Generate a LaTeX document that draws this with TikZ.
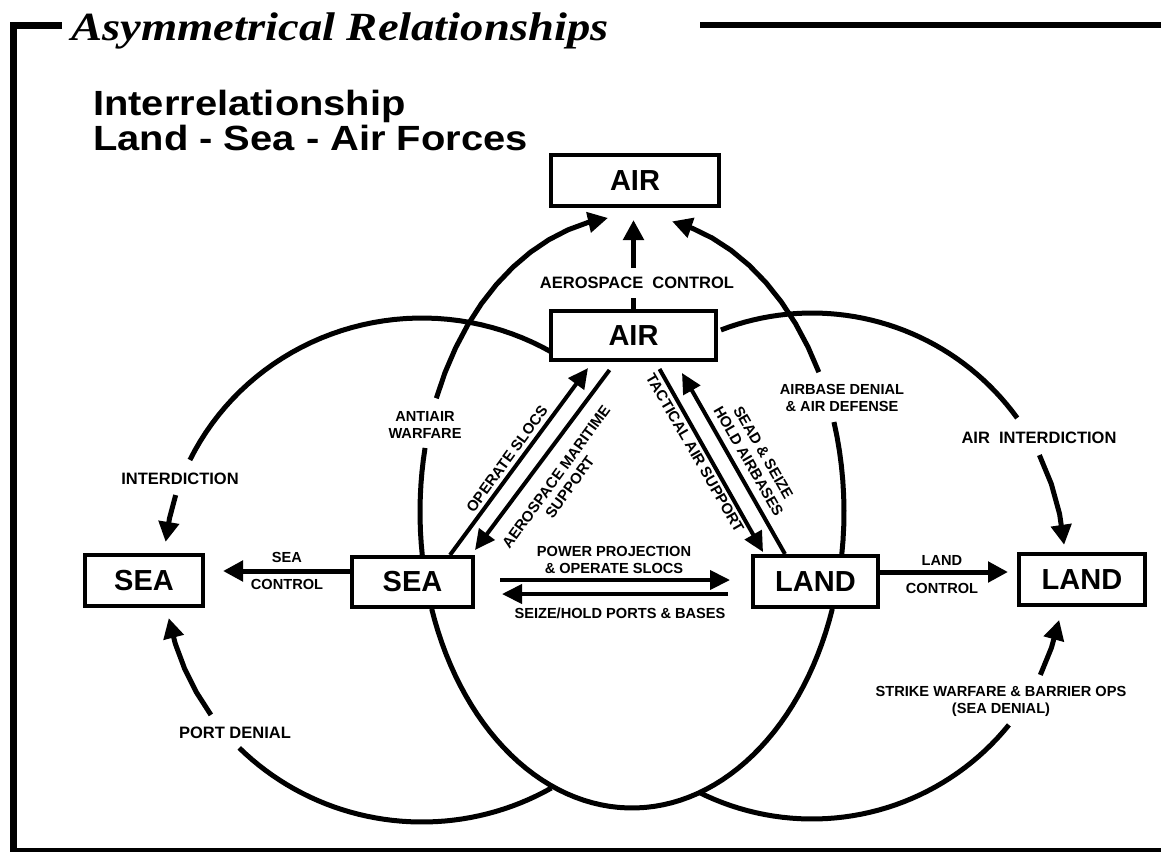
\documentclass[tikz,border=0pt]{standalone}
\usepackage{fontspec}
\setmainfont{Liberation Sans}
\newfontfamily\titlefont{Liberation Serif}
\usetikzlibrary{arrows.meta, positioning, calc}

\begin{document}
\begin{tikzpicture}[x=1pt, y=-1pt,
  force/.style={draw, line width=4pt, inner sep=0pt, minimum height=51pt, font=\fontsize{29}{29}\selectfont\bfseries},
  lbl/.style={align=center, inner sep=1pt, font=\fontsize{14.6}{17}\selectfont\bfseries},
  slant/.style={align=center, inner sep=1pt, font=\fontsize{15}{17}\selectfont\bfseries},
  biglbl/.style={align=center, inner sep=1pt, font=\fontsize{16.5}{19}\selectfont\bfseries},
  heading/.style={anchor=base west, inner sep=0pt, font=\fontsize{35}{35}\selectfont\bfseries},
  ring/.style={line width=5pt},
  arr/.style={line width=5pt, -{Triangle[length=20pt, width=20pt]}},
  rarr/.style={line width=5pt, {Triangle[length=20pt, width=20pt]}-},
  link/.style={line width=4pt, -{Triangle[length=20pt, width=19pt]}},
]
  \useasboundingbox (0,0) rectangle (1161,852);

  % Frame and titles
  \draw[line width=7pt] (62,25) -- (13.5,25) -- (13.5,852);
  \draw[line width=6pt] (700,25) -- (1161,25);
  \draw[line width=4pt] (10,850) -- (1161,850);
  \node[anchor=base west, inner sep=0pt, font=\titlefont\fontsize{40}{40}\selectfont\bfseries\itshape] (title) at (71,40) {\scalebox{1.165}[1]{Asymmetrical Relationships}};
  \node[heading] (heading1) at (93,115) {\scalebox{1.14}[1]{Interrelationship}};
  \node[heading] (heading2) at ($(heading1.base west)+(0,35)$) {\scalebox{1.14}[1]{Land - Sea - Air Forces}};

  % Forces
  \node[force, minimum width=168pt] (airtop) at (635,180.5) {AIR};
  \node[force, minimum width=165pt, minimum height=49pt] (airmid) at (633.5,335.5) {AIR};
  \node[force, minimum width=118pt] (seaout) at (144,580.5) {SEA};
  \node[force, minimum width=121pt, minimum height=50pt] (seamid) at (412.5,582) {SEA};
  \node[force, minimum width=125pt] (landmid) at (815.5,581.5) {LAND};
  \node[force, minimum width=126pt] (landout) at (1082,579.5) {LAND};

  % Aerospace control
  \node[biglbl, inner ysep=9pt] (aerolbl) at (637,283) {AEROSPACE\ \ CONTROL};
  \draw[ring] (airmid.north) -- (airmid.north |- aerolbl.south);
  \draw[arr] (airmid.north |- aerolbl.north) -- ($(airmid.north |- airtop.south)+(0,12)$);

  % Sea and land control
  \draw[arr] ($(seamid.west)+(0,-11)$) -- ($(seaout.east)+(18,-9.5)$);
  \node[lbl] (seactl1) at (287,557) {SEA};
  \node[lbl] (seactl2) at (287,584) {CONTROL};
  \draw[arr] ($(landmid.east)+(0,-9.5)$) -- ($(landout.west)+(-9,-7.5)$);
  \node[lbl] (landctl1) at (942,560) {LAND};
  \node[lbl] (landctl2) at (942,588) {CONTROL};

  % Triangle links
  \draw[link] ($(seamid.east)+(25,-2)$) -- ($(landmid.west)+(-21,-1.5)$);
  \draw[link] ($(landmid.west)+(-23,12.5)$) -- ($(seamid.east)+(27,12)$);
  \draw[link] ($(seamid.north east)+(-25,0)$) -- ($(airmid.south west)+(39,6)$);
  \draw[link] ($(airmid.south)+(-24,8)$) -- ($(seamid.north east)+(0,-5)$);
  \draw[link] ($(airmid.south)+(26,7)$) -- ($(landmid.north west)+(12,-2)$);
  \draw[link] ($(landmid.north west)+(34,0)$) -- ($(airmid.south)+(48.5,11)$);
  \node[lbl] (powerproj) at (614,560) {POWER PROJECTION\\\& OPERATE SLOCS};
  \node[lbl] (seize) at (620,613) {SEIZE/HOLD PORTS \& BASES};
  \node[slant, rotate=54] (opslocs) at (507,459) {OPERATE SLOCS};
  \node[slant, rotate=54] (maritime) at (563,482) {AEROSPACE MARITIME\\SUPPORT};
  \node[slant, rotate=-60] (tacair) at (695,453) {TACTICAL AIR SUPPORT};
  \node[slant, rotate=-60] (sead) at (756,457) {SEAD \& SEIZE\\HOLD AIRBASES};

  % Ring labels
  \node[lbl] (antiair) at (425,425) {ANTIAIR\\WARFARE};
  \node[lbl] (airbase) at (842,398) {AIRBASE DENIAL\\\& AIR DEFENSE};
  \node[biglbl] (interd) at (180,479) {INTERDICTION};
  \node[biglbl] (airinterd) at (1039,438) {AIR\ \ INTERDICTION};
  \node[biglbl] (portden) at (235,733) {PORT DENIAL};
  \node[lbl] (strike) at (1001,701) {STRIKE WARFARE \& BARRIER OPS\\(SEA DENIAL)};

  % Air ring
  \draw[ring] plot[domain=19.1:160.9, samples=60] ({632+212*cos(\x)}, {512+296*sin(\x)});
  \draw[ring] plot[domain=171.5:192.5, samples=10] ({632+212*cos(\x)}, {512+296*sin(\x)});
  \draw[arr] plot[domain=202.6:263.5, samples=12] ({632+212*cos(\x)}, {512+296*sin(\x)});
  \draw[ring] plot[domain=-17.7:8.5, samples=10] ({632+212*cos(\x)}, {512+296*sin(\x)});
  \draw[rarr] plot[domain=-79.1:-28.2, samples=10] ({632+212*cos(\x)}, {512+296*sin(\x)});

  % Sea ring
  \draw[ring] plot[domain=205.9:300.1, samples=40] ({422+258*cos(\x)}, {570+252*sin(\x)});
  \draw[rarr] plot[domain=186.4:197.3, samples=3] ({422+258*cos(\x)}, {570+252*sin(\x)});
  \draw[arr] plot[domain=144.9:169, samples=5] ({422+258*cos(\x)}, {570+252*sin(\x)});
  \draw[ring] plot[domain=59.9:135.1, samples=40] ({422+258*cos(\x)}, {570+252*sin(\x)});

  % Land ring
  \draw[ring] plot[domain=248.9:324.2, samples=40] ({812+253*cos(\x)}, {566+253*sin(\x)});
  \draw[arr] plot[domain=334:355.2, samples=4] ({812+253*cos(\x)}, {566+253*sin(\x)});
  \draw[rarr] plot[domain=12.3:25.5, samples=3] ({812+253*cos(\x)}, {566+253*sin(\x)});
  \draw[ring] plot[domain=38.9:116.7, samples=40] ({812+253*cos(\x)}, {566+253*sin(\x)});
\end{tikzpicture}
\end{document}
